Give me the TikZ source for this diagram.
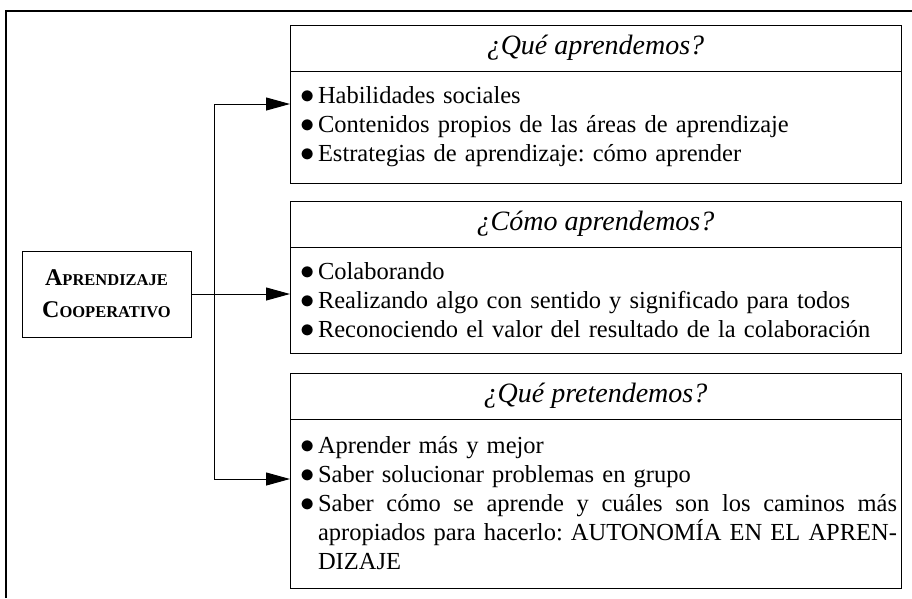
\documentclass[tikz,border=0pt]{standalone}
\usepackage{fontspec}
\setmainfont{Liberation Serif}
\usepackage{tikz}
\usetikzlibrary{arrows.meta,positioning}

\newcommand{\versal}[2]{{\fontsize{24}{32}\selectfont #1}{\fontsize{16.5}{32}\selectfont #2}}
\newcommand{\pto}{\makebox[20pt][l]{\hspace{2.5pt}\scalebox{1.15}{$\bullet$}}}
\newcommand{\renglon}[1]{\makebox[579pt][s]{\spaceskip=\fontdimen2\font plus 1fil\relax #1}}

\begin{document}
\begin{tikzpicture}[x=1pt, y=-1pt,
tema/.style={draw, line width=1pt, minimum width=169pt, minimum height=86pt,
align=center, font=\bfseries\fontsize{24}{32}\selectfont},
cabeza/.style={draw, line width=1pt, outer sep=0pt, minimum width=611pt,
minimum height=46pt, inner sep=0pt, font=\itshape\fontsize{28}{30}\selectfont},
cuerpo/.style={draw, line width=1pt, outer sep=0pt, text width=595pt,
inner xsep=8pt, inner ysep=0pt, align=left, font=\fontsize{24.5}{29}\selectfont\frenchspacing},
flecha/.style={-{Triangle[length=24pt,width=13pt]}, line width=1pt},
marco/.style={line width=1.3pt}
]
\useasboundingbox (0,0) rectangle (912,598);

\draw[marco] (6,598) -- (6,11) -- (912,11);

\node[tema] (ac) at (106.5,294) {\versal{A}{PRENDIZAJE}\\\versal{C}{OOPERATIVO}};

\node[cabeza] (h1) at (595.5,48) {¿Qué aprendemos?};
\node[cuerpo, minimum height=112pt, below=0pt of h1] (b1)
{\pto Habilidades sociales\\
\pto Contenidos propios de las áreas de aprendizaje\\
\pto Estrategias de aprendizaje: cómo aprender};

\node[cabeza] (h2) at (595.5,224) {¿Cómo aprendemos?};
\node[cuerpo, minimum height=106pt, below=0pt of h2] (b2)
{\pto Colaborando\\
\pto Realizando algo con sentido y significado para todos\\
\pto Reconociendo el valor del resultado de la colaboración};

\node[cabeza] (h3) at (595.5,396) {¿Qué pretendemos?};
\node[cuerpo, minimum height=169pt, below=0pt of h3] (b3)
{\pto Aprender más y mejor\\
\pto Saber solucionar problemas en grupo\\
\pto\renglon{Saber cómo se aprende y cuáles son los caminos más}\\
\hspace*{20pt}\renglon{apropiados para hacerlo: AUTONOMÍA EN EL APREN-}\\
\hspace*{20pt}DIZAJE};

\coordinate (r1) at (214,104);
\coordinate (r3) at (214,479);

\draw[flecha] (ac.east) -- (ac.east -| b2.west);
\draw[flecha] (r3) -- (r1) -- (r1 -| b1.west);
\draw[flecha] (r1) -- (r3) -- (r3 -| b3.west);

\end{tikzpicture}
\end{document}
